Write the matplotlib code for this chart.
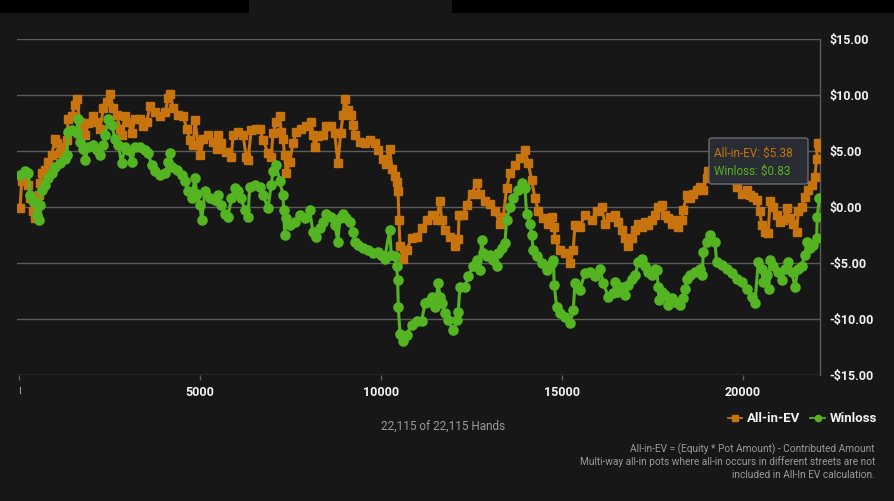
import matplotlib
matplotlib.use('Agg')
import matplotlib.pyplot as plt
from matplotlib.patches import Rectangle, FancyBboxPatch
from matplotlib.lines import Line2D

plt.rcParams['font.family'] = ['Roboto', 'DejaVu Sans']

# ---------------- data ----------------
ev_hands = [19, 65, 157, 250, 296, 388, 434, 480, 544, 572, 618, 710, 802, 895, 987, 1033,
            1125, 1217, 1309, 1355, 1447, 1539, 1586, 1678, 1770, 1816, 1908, 2046, 2138,
            2230, 2322, 2415, 2507, 2599, 2691, 2783, 2829, 2921, 3013, 3106, 3198, 3336,
            3428, 3520, 3612, 3750, 3889, 4027, 4119, 4165, 4257, 4395, 4534, 4626, 4718,
            4810, 4856, 4948, 4994, 5087, 5225, 5363, 5455,
            5492, 5584, 5722, 5861, 5907, 6045, 6183, 6275, 6321, 6413, 6552, 6644, 6736,
            6874, 6966, 7012, 7104, 7196, 7242, 7289, 7335, 7381, 7473, 7565, 7657, 7795,
            7933, 8072, 8118, 8164, 8256, 8394, 8486, 8624, 8717, 8809, 8882, 8947, 8993,
            9085, 9177, 9223, 9269, 9408, 9546, 9684, 9822, 9914, 10052, 10144, 10237,
            10301, 10375, 10439, 10467,
            10495, 10522, 10614, 10706, 10845, 10983, 11121, 11259, 11398, 11536, 11628,
            11674, 11766, 11904, 12042, 12134, 12153, 12273, 12365, 12503, 12641, 12733,
            12872, 13010, 13148, 13286, 13378, 13470, 13562, 13701, 13839, 13977, 14069,
            14161, 14253, 14346, 14484, 14622, 14714, 14788, 14806, 14944, 15083, 15221,
            15313, 15359, 15497, 15635, 15820, 15958, 16096, 16188, 16326,
            16465, 16557, 16649, 16741, 16834, 16926, 17018, 17110, 17202, 17294, 17386,
            17478, 17571, 17663, 17755, 17847, 17939, 18031, 18123, 18215, 18308, 18354,
            18446, 18538, 18630, 18722, 18814, 18906, 18999, 19045, 19229, 19413, 19597,
            19828, 19966, 20104, 20196, 20288, 20380, 20473, 20519, 20611, 20703, 20749,
            20841, 20933, 21025, 21118, 21210, 21302, 21394, 21486, 21532, 21624, 21716,
            21809, 21901, 21993, 22039, 22067, 22115]
ev_values = [-0.1, 2.3, 2.4, 2.0, 0.8, -0.4, -1.0, -0.1, 1.1, 2.1, 3.0, 3.3, 4.0, 4.6, 6.1, 5.7,
             4.8, 5.4, 6.0, 7.9, 8.1, 9.1, 9.6, 7.6, 7.0, 6.4, 7.5, 8.1, 7.6,
             7.0, 8.8, 9.4, 10.1, 8.8, 8.2, 7.0, 6.4, 8.1, 7.6, 6.6, 7.9, 7.9,
             7.2, 7.6, 9.0, 8.5, 8.1, 8.5, 9.7, 10.1, 8.8, 8.2, 8.1, 7.0, 6.0,
             5.5, 7.8, 5.5, 4.6, 6.1, 6.4, 5.8, 5.2,
             6.4, 5.7, 4.9, 4.5, 6.4, 6.7, 6.4, 4.5, 4.2, 6.9, 7.0, 7.0, 6.0,
             4.8, 4.5, 6.6, 7.6, 8.1, 6.7, 6.1, 4.6, 3.0, 4.0, 5.7, 6.7, 7.0,
             7.2, 7.6, 6.4, 5.4, 6.3, 6.4, 7.2, 7.2, 6.6, 3.9, 6.6, 8.2, 9.6,
             8.7, 8.2, 7.3, 6.4, 5.8, 5.7, 6.0, 5.7, 5.1, 4.3, 3.8, 5.2,
             3.4, 2.8, 2.2, 1.4,
             -1.2, -3.5, -4.6, -3.8, -2.8, -2.65, -1.9, -1.2, -0.7, -1.2, 0.5,
             -1.2, -2.05, -2.65, -3.5, -2.9, -0.7, -0.7, 0.2, 1.2, 2.1, 1.2,
             0.5, 0.3, -0.4, -1.5, -0.9, 1.7, 3.0, 3.75, 4.35, 5.1, 3.9,
             2.4, 0.8, -0.4, -1.0, -1.5, -0.9, -1.75, -2.9, -3.8, -4.1, -5.0,
             -3.8, -1.6, -1.75, -0.7, -1.2, -0.4, 0.0, -1.5, -0.9,
             -0.7, -1.3, -2.05, -2.8, -3.5, -2.8, -2.05, -1.5, -1.75, -1.3, -1.6,
             -1.2, -0.7, 0.0, 0.2, -0.7, -1.0, -1.5, -1.2, -1.75, -1.2, -0.3,
             1.1, 0.8, 1.2, 1.5, 1.8, 1.5, 2.6, 3.2, 3.4, 3.0, 2.5,
             1.8, 1.2, 1.5, 1.1, 0.9, 0.6, -0.4, -1.6, -2.2, -2.35, 0.5,
             0.0, -0.7, -1.3, -1.2, -0.1, -1.0, -1.5, -2.2, -0.4, 0.0, 0.9,
             1.5, 2.0, 2.7, 4.3, 5.7, 5.38]

wl_hands = [19, 157, 250, 296, 388, 480, 544, 572, 618, 710, 802, 895, 987, 1125, 1263, 1309,
            1355, 1447, 1586, 1632, 1678, 1770, 1816, 1908, 2046, 2138, 2230, 2322, 2368,
            2461, 2553, 2645, 2737, 2829, 2921, 3013, 3106, 3198, 3336, 3474, 3566, 3658,
            3750, 3889, 4027, 4119, 4165, 4211, 4349, 4488, 4580, 4672, 4764, 4856, 4902,
            4994, 5040, 5132, 5271, 5409,
            5492, 5584, 5676, 5768, 5861, 5953, 6045, 6137, 6229, 6321, 6367, 6505, 6644,
            6736, 6874, 6966, 7012, 7104, 7196, 7289, 7307, 7335, 7381, 7473, 7611, 7749,
            7887, 8026, 8118, 8210, 8302, 8394, 8486, 8624, 8717, 8809, 8855, 8947, 9039,
            9131, 9223, 9269, 9362, 9500, 9638, 9776, 9914, 10006, 10098, 10237, 10283,
            10375,
            10430, 10458, 10476, 10522, 10614, 10706, 10845, 10983, 11121, 11213, 11305,
            11398, 11490, 11582, 11628, 11674, 11766, 11858, 11996, 12088, 12134, 12180,
            12319, 12411, 12549, 12641, 12733, 12779, 12825, 12918, 13010, 13102, 13194,
            13240, 13332, 13424, 13470, 13562, 13654, 13793, 13885, 13977, 14023, 14115,
            14161, 14207, 14299, 14438, 14576, 14714, 14760, 14788, 14852, 14944, 15083,
            15221, 15313, 15359, 15497, 15635, 15774, 15912, 16050, 16142, 16280, 16419,
            16465, 16557, 16649, 16741, 16834, 16926, 17018, 17110, 17202, 17294, 17386,
            17478, 17571, 17617, 17663, 17681, 17755, 17847, 17939, 18031, 18123, 18261,
            18354, 18400, 18446, 18538, 18676, 18814, 18879, 18906, 18999, 19091, 19229,
            19275, 19413, 19551, 19690, 19828, 19966, 20104, 20242, 20334, 20427, 20519,
            20565, 20657, 20721, 20749, 20841, 20979, 21072, 21164, 21256, 21348, 21440,
            21532, 21624, 21716, 21762, 21855, 21947, 22039, 22057, 22115]
wl_values = [2.9, 3.2, 3.0, 1.1, 0.5, -0.7, -1.2, 0.2, 1.5, 2.0, 2.6, 3.0, 3.6, 3.9, 4.3, 4.6,
             6.7, 6.9, 6.6, 7.9, 5.8, 5.2, 4.2, 5.4, 5.5, 5.1, 4.6, 5.5, 6.4,
             7.9, 7.3, 6.1, 5.5, 3.9, 5.4, 5.1, 4.0, 5.4, 5.4, 5.1, 4.8, 3.75,
             3.2, 2.9, 3.0, 4.0, 4.8, 3.6, 3.3, 2.9, 2.3, 1.4, 0.8, 2.6, 1.2,
             0.2, -1.2, 1.4, 0.8, 0.6,
             1.1, 0.2, -0.6, -0.9, 0.8, 1.7, 1.4, 0.8, -0.3, -0.9, 1.8, 2.0, 1.8,
             1.1, -0.1, 2.0, 3.2, 3.75, 2.3, 1.1, -0.3, -2.5, -1.0, -1.6, -1.3, -0.7,
             -1.0, -0.3, -2.2, -2.65, -1.9, -1.3, -0.6, -0.9, -1.6, -3.1, -1.0, -0.6, -1.0,
             -1.3, -2.2, -3.1, -3.4, -3.7, -3.8, -4.1, -4.0, -4.3, -4.6, -2.05, -4.3,
             -4.4,
             -5.3, -6.5, -8.9, -11.3, -12.0, -11.4, -10.5, -10.2, -10.2, -8.6, -8.45,
             -8.0, -8.9, -6.8, -8.0, -8.6, -9.5, -10.1, -11.0, -10.1, -9.35, -7.1,
             -7.1, -6.2, -5.3, -4.7, -5.6, -2.95, -4.1, -4.4, -4.3, -4.7, -5.3,
             -4.1, -3.7, -3.2, -1.2, 0.0, 0.8, 1.5, 2.1, 1.7, -0.6, -1.5,
             -2.5, -3.8, -4.4, -5.0, -5.6, -5.0, -4.7, -7.0, -8.9, -9.5, -9.8,
             -10.4, -9.2, -6.8, -7.4, -5.9, -5.8, -6.2, -5.5, -6.8, -8.0, -7.7,
             -6.7, -7.6, -7.1, -7.9, -7.0, -6.4, -6.1, -4.9, -4.6, -5.3, -5.8,
             -6.1, -5.5, -5.6, -7.1, -8.3, -7.6, -7.9, -8.75, -8.15, -8.45, -8.75,
             -8.15, -7.3, -6.4, -6.1, -5.8, -5.5, -6.1, -4.0, -3.1, -2.5, -3.1,
             -4.9, -5.2, -5.5, -5.9, -6.4, -6.7, -7.3, -8.0, -8.6, -4.9, -5.5,
             -6.7, -6.1, -7.3, -4.7, -5.3, -5.8, -6.5, -5.5, -4.9, -5.8, -7.1,
             -5.5, -5.3, -4.3, -3.1, -3.7, -3.4, -2.8, -0.9, 0.83]

series_labels = ['All-in-EV', 'Winloss']
x_ticks = [0, 5000, 10000, 15000, 20000]
x_tick_labels = ['', '5000', '10000', '15000', '20000']
y_ticks = [-15, -10, -5, 0, 5, 10, 15]
y_tick_labels = ['-$15.00', '-$10.00', '-$5.00', '$0.00', '$5.00', '$10.00', '$15.00']
hands_text = '22,115 of 22,115 Hands'
footnote_lines = ['All-in-EV = (Equity * Pot Amount) - Contributed Amount',
                  'Multi-way all-in pots where all-in occurs in different streets are not',
                  'included in All-In EV calculation.']
tooltip_ev = 5.38
tooltip_wl = 0.83

# ---------------- style ----------------
BG = '#171717'
ORANGE = '#c7740f'
GREEN = '#55b421'
GRID = '#5c5c5c'
W, H = 895, 501

fig = plt.figure(figsize=(W / 100, H / 100), dpi=100)
fig.patch.set_facecolor(BG)

# surrounding UI bars at the top
fig.patches.append(Rectangle((0, 1 - 13 / H), 249 / W, 13 / H, transform=fig.transFigure,
                             facecolor='#000000', edgecolor='none'))
fig.patches.append(Rectangle((452 / W, 1 - 13 / H), (W - 452) / W, 13 / H,
                             transform=fig.transFigure, facecolor='#000000', edgecolor='none'))

ax = fig.add_axes([17 / W, 1 - 375 / H, (820 - 17) / W, (375 - 39) / H])
ax.set_facecolor(BG)

l_ev, = ax.plot(ev_hands, ev_values, color=ORANGE, lw=2.2, marker='s', ms=6.2,
                mec=ORANGE, mfc=ORANGE, label=series_labels[0], zorder=3,
                solid_joinstyle='round')
l_wl, = ax.plot(wl_hands, wl_values, color=GREEN, lw=2.2, marker='o', ms=6.6,
                mec=GREEN, mfc=GREEN, label=series_labels[1], zorder=4,
                solid_joinstyle='round')

ax.set_xlim(-64, 22133)
ax.set_ylim(-15, 15)
ax.set_yticks(y_ticks)
ax.set_yticklabels(y_tick_labels)
ax.set_xticks(x_ticks)
ax.set_xticklabels(x_tick_labels)
ax.yaxis.tick_right()
ax.grid(axis='y', color=GRID, lw=1.0)
ax.grid(axis='x', visible=False)
for s in ['top', 'left', 'bottom']:
    ax.spines[s].set_visible(False)
ax.spines['right'].set_color(GRID)
ax.spines['right'].set_linewidth(1.0)
ax.tick_params(axis='y', length=0, pad=7, labelcolor='#f2f2f2', labelsize=9)
ax.tick_params(axis='x', length=3.5, width=1, color=GRID, pad=4.5, labelcolor='#f2f2f2',
               labelsize=9)
for t in ax.get_xticklabels() + ax.get_yticklabels():
    t.set_fontweight('bold')

# small mark under the origin
fig.lines.append(Line2D([20 / W, 20 / W], [1 - 387 / H, 1 - 393 / H], transform=fig.transFigure,
                        color='#9a9a9a', lw=0.8))

# legend (handles are small samples of the plotted series)
h_ev = Line2D([], [], color=ORANGE, lw=1.3, marker='s', ms=4.5)
h_wl = Line2D([], [], color=GREEN, lw=1.3, marker='o', ms=4.5)
leg = ax.legend(handles=[h_ev, h_wl], labels=series_labels, loc='center right',
                bbox_to_anchor=(877 / W, 1 - 419 / H),
                bbox_transform=fig.transFigure, ncol=2, frameon=False, handlelength=1.1,
                handletextpad=0.35, columnspacing=0.8, borderpad=0, borderaxespad=0,
                prop={'weight': 'bold', 'size': 9.5})
for t in leg.get_texts():
    t.set_color('#f2f2f2')

# hands count
fig.text(443 / W, 1 - 426 / H, hands_text, ha='center', va='center', color='#9a9a9a', fontsize=8.5)

# footnote
for i, line in enumerate(footnote_lines):
    fig.text(875 / W, 1 - (449 + 13 * i) / H, line, ha='right', va='center', color='#9a9a9a',
             fontsize=7.3)

# tooltip
tip = FancyBboxPatch((709 / W, 1 - 184 / H), 99 / W, 46 / H,
                     boxstyle='round,pad=0,rounding_size=0.004', transform=fig.transFigure,
                     facecolor='#2a2c33', edgecolor='#6a6c72', lw=1.0, zorder=10)
fig.patches.append(tip)
fig.text(714 / W, 1 - 153 / H, f'All-in-EV: ${tooltip_ev:.2f}', ha='left', va='center',
         color=ORANGE, fontsize=8.5, zorder=11)
fig.text(714 / W, 1 - 171 / H, f'Winloss: ${tooltip_wl:.2f}', ha='left', va='center',
         color=GREEN, fontsize=8.5, zorder=11)

fig.savefig('out.png', dpi=100, facecolor=BG)
